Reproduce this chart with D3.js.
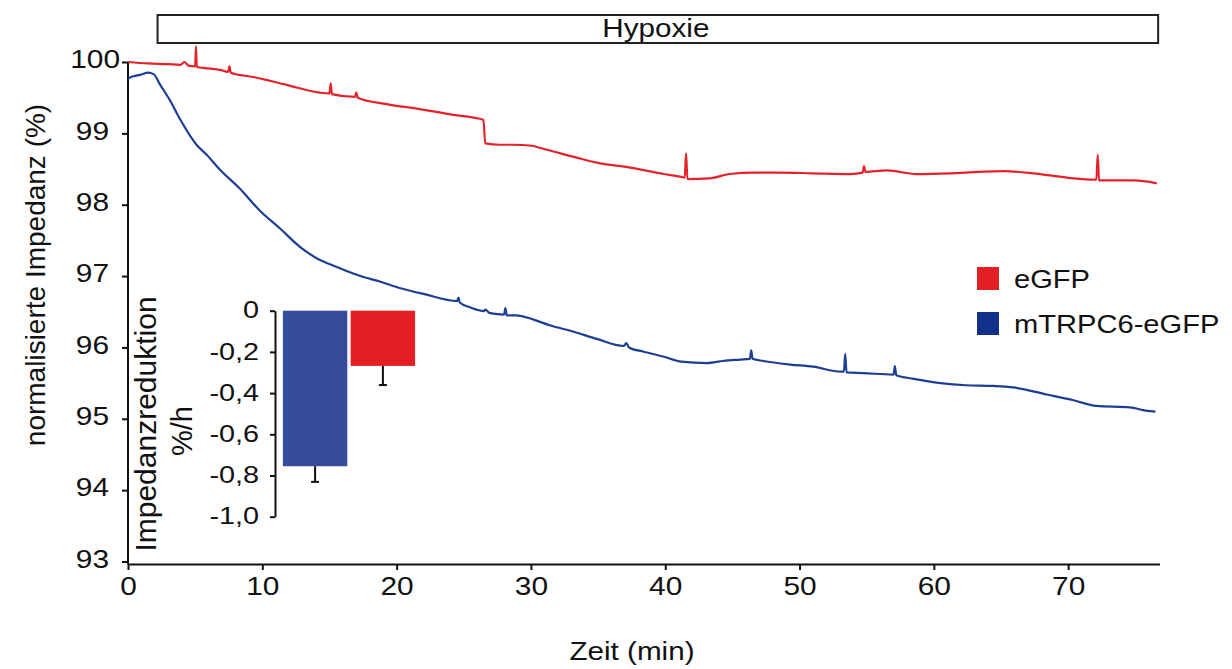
<!DOCTYPE html>
<html lang="de">
<head>
<meta charset="UTF-8">
<title>Impedanz unter Hypoxie</title>
<script src="https://cdn.jsdelivr.net/npm/d3@7"></script>
<style>
  body { margin: 0; background: #fff; }
  svg { display: block; font-family: "Liberation Sans", Arial, sans-serif; }
</style>
</head>
<body>
<svg></svg>
<script>
// traces: [Zeit (min), normalisierte Impedanz (%)]
var eGFP = [
  [0, 100.00], [1.5, 99.98], [3.0, 99.97], [3.9, 99.96], [4.2, 100.00], [4.5, 99.95],
  [5.0, 99.94], [5.06, 100.22], [5.12, 99.93], [6.0, 99.91], [6.85, 99.89],
  [7.45, 99.86], [7.55, 99.94], [7.65, 99.85], [9.33, 99.79], [11.8, 99.68],
  [14.3, 99.57], [15.0, 99.56], [15.09, 99.70], [15.18, 99.55], [16.9, 99.51],
  [17.0, 99.57], [17.1, 99.50], [19.26, 99.41], [21.7, 99.34], [24.2, 99.26],
  [26.46, 99.19], [26.6, 98.86], [27.7, 98.84], [28.7, 98.84], [29.9, 98.83],
  [31.2, 98.77], [33.4, 98.66], [34.9, 98.59], [37.4, 98.52], [39.9, 98.43],
  [41.2, 98.39], [41.45, 98.38], [41.55, 98.72], [41.65, 98.36], [43.3, 98.37],
  [44.8, 98.43], [46.6, 98.45], [48.5, 98.45], [51.0, 98.44], [53.8, 98.43],
  [54.7, 98.45], [54.8, 98.54], [54.9, 98.46], [56.5, 98.48], [58.7, 98.43],
  [61.2, 98.44], [63.4, 98.46], [65.2, 98.47], [67.4, 98.44], [69.9, 98.38],
  [72.1, 98.35], [72.2, 98.70], [72.3, 98.34], [74.9, 98.34], [76.6, 98.30]
];
var mTRPC6 = [
  [0, 99.77], [0.4, 99.80], [0.9, 99.82], [1.5, 99.85], [1.9, 99.83], [2.4, 99.68],
  [3.1, 99.47], [3.9, 99.19], [5.1, 98.84], [5.86, 98.70], [6.85, 98.49],
  [8.3, 98.23], [9.8, 97.92], [11.3, 97.67], [12.8, 97.41], [14.05, 97.25],
  [15.5, 97.13], [17.3, 97.00], [18.8, 96.92], [20.3, 96.83], [22.0, 96.75],
  [24.5, 96.65], [24.6, 96.70], [24.7, 96.63], [25.5, 96.56], [26.5, 96.51],
  [26.6, 96.53], [26.95, 96.48], [28.0, 96.46], [28.1, 96.55], [28.2, 96.45],
  [28.9, 96.45], [30.2, 96.39], [31.4, 96.31], [33.2, 96.22], [34.9, 96.12],
  [36.9, 96.02], [37.1, 96.06], [37.3, 96.00], [38.4, 95.94], [39.9, 95.87],
  [41.2, 95.80], [43.1, 95.78], [44.3, 95.81], [45.6, 95.83], [46.3, 95.84],
  [46.4, 95.96], [46.5, 95.84], [47.3, 95.81], [49.3, 95.76], [51.0, 95.73],
  [53.1, 95.66], [53.3, 95.66], [53.4, 95.91], [53.5, 95.65], [54.75, 95.64],
  [57.0, 95.62], [57.1, 95.74], [57.2, 95.61], [58.5, 95.56], [60.5, 95.50],
  [62.4, 95.47], [64.4, 95.46], [65.9, 95.44], [68.4, 95.34], [70.4, 95.26],
  [72.1, 95.18], [74.6, 95.16], [75.9, 95.11], [76.5, 95.10]
];
var xTicks = [0, 10, 20, 30, 40, 50, 60, 70];
var yTicks = [93, 94, 95, 96, 97, 98, 99, 100];
var hypoxia = [2.2, 76.7];   // minutes covered by the Hypoxie bar

// inset: Impedanzreduktion %/h
var barGroups = ['mTRPC6-eGFP', 'eGFP'];
var barMeans = [-0.755, -0.268];
var barErrors = [0.076, 0.093];
var barTicks = [0, -0.2, -0.4, -0.6, -0.8, -1.0];

var legendLabels = ['eGFP', 'mTRPC6-eGFP'];

var width = 1232, height = 669;
var red = '#e5222a', blue = '#1e3e93';
var barColor = {'mTRPC6-eGFP': '#354c9b', 'eGFP': '#e31e24'};
var keyColor = {'eGFP': '#e31e24', 'mTRPC6-eGFP': '#10308a'};
var ink = '#111';

var svg = d3.select('svg').attr('width', width).attr('height', height);

var x = d3.scaleLinear().domain([0, 76.8]).range([128, 1159.5]);
var y = d3.scaleLinear().domain([93, 100]).range([561.5, 62]);
var baseY = 564;

// text squeezed/stretched sideways like the original lettering
function label(txt, x0, y0, size, sx, anchor) {
  return svg.append('text')
    .attr('transform', 'translate(' + x0 + ',' + y0 + ') scale(' + sx + ',1)')
    .attr('text-anchor', anchor)
    .attr('font-size', size)
    .attr('fill', ink)
    .text(txt);
}

// Hypoxie bar
svg.append('rect')
  .attr('x', x(hypoxia[0])).attr('y', 15)
  .attr('width', x(hypoxia[1]) - x(hypoxia[0])).attr('height', 28)
  .attr('fill', '#fff').attr('stroke', '#222').attr('stroke-width', 2);
label('Hypoxie', (x(hypoxia[0]) + x(hypoxia[1])) / 2 - 2, 37, 26, 1.14, 'middle');

// axes
var yAxis = svg.append('g')
  .attr('transform', 'translate(128,0)')
  .call(d3.axisLeft(y).tickValues(yTicks).tickSize(6).tickPadding(14).tickSizeOuter(0)
    .tickFormat(d3.format('d')));
yAxis.select('.domain').remove();
yAxis.selectAll('.tick line').attr('stroke', ink).attr('stroke-width', 2);
yAxis.selectAll('.tick text')
  .attr('font-size', 26).attr('fill', ink).attr('font-family', null)
  .attr('dy', '0.22em')
  .attr('transform', 'scale(1.15,1)')
  .attr('x', function(d) { return d === 100 ? -8 / 1.15 : -19 / 1.15; });

svg.append('line')
  .attr('x1', 128).attr('x2', 128).attr('y1', y(100)).attr('y2', baseY)
  .attr('stroke', ink).attr('stroke-width', 2);

var xAxis = svg.append('g')
  .attr('transform', 'translate(0,' + baseY + ')')
  .call(d3.axisBottom(x).tickValues(xTicks).tickSize(6).tickPadding(7).tickSizeOuter(0)
    .tickFormat(d3.format('d')));
xAxis.select('.domain').attr('stroke', ink).attr('stroke-width', 2);
xAxis.selectAll('.tick line').attr('stroke', ink).attr('stroke-width', 2);
xAxis.selectAll('.tick text')
  .attr('font-size', 26).attr('fill', ink).attr('font-family', null)
  .attr('transform', 'scale(1.15,1)')
  .attr('x', 0);

// axis titles
svg.append('text')
  .attr('transform', 'translate(45,275) rotate(-90)')
  .attr('text-anchor', 'middle').attr('font-size', 28).attr('fill', ink)
  .text('normalisierte Impedanz (%)');
label('Zeit (min)', 632, 660, 26, 1.14, 'middle');

// traces
var line = d3.line()
  .curve(d3.curveMonotoneX)
  .x(function(d) { return x(d[0]); })
  .y(function(d) { return y(d[1]); });

svg.append('path').datum(eGFP)
  .attr('fill', 'none').attr('stroke', red).attr('stroke-width', 2.2)
  .attr('stroke-linejoin', 'round').attr('d', line);
svg.append('path').datum(mTRPC6)
  .attr('fill', 'none').attr('stroke', blue).attr('stroke-width', 2.2)
  .attr('stroke-linejoin', 'round').attr('d', line);

// inset bar chart
var bx = d3.scaleBand().domain(barGroups).range([279.5, 418.5])
  .paddingInner(0.05).paddingOuter(0.05);
var by = d3.scaleLinear().domain([-1, 0]).range([516.7, 310.7]);

var inset = svg.append('g');
inset.selectAll('rect.bar').data(barGroups).enter().append('rect')
  .attr('class', 'bar')
  .attr('x', function(d) { return bx(d); })
  .attr('y', by(0))
  .attr('width', bx.bandwidth())
  .attr('height', function(d, i) { return by(barMeans[i]) - by(0); })
  .attr('fill', function(d) { return barColor[d]; });

inset.selectAll('line.err').data(barGroups).enter().append('line')
  .attr('class', 'err')
  .attr('x1', function(d) { return bx(d) + bx.bandwidth() / 2; })
  .attr('x2', function(d) { return bx(d) + bx.bandwidth() / 2; })
  .attr('y1', function(d, i) { return by(barMeans[i]); })
  .attr('y2', function(d, i) { return by(barMeans[i] - barErrors[i]); })
  .attr('stroke', ink).attr('stroke-width', 2);
inset.selectAll('line.cap').data(barGroups).enter().append('line')
  .attr('class', 'cap')
  .attr('x1', function(d) { return bx(d) + bx.bandwidth() / 2 - 4; })
  .attr('x2', function(d) { return bx(d) + bx.bandwidth() / 2 + 4; })
  .attr('y1', function(d, i) { return by(barMeans[i] - barErrors[i]); })
  .attr('y2', function(d, i) { return by(barMeans[i] - barErrors[i]); })
  .attr('stroke', ink).attr('stroke-width', 2);

var insetAxis = inset.append('g')
  .attr('transform', 'translate(275,0)')
  .call(d3.axisLeft(by).tickValues(barTicks).tickSize(5).tickPadding(13).tickSizeOuter(0)
    .tickFormat(function(d) { return d === 0 ? '0' : d.toFixed(1).replace('.', ','); }));
insetAxis.select('.domain').attr('stroke', ink).attr('stroke-width', 2);
insetAxis.selectAll('.tick line').attr('stroke', ink).attr('stroke-width', 2);
insetAxis.selectAll('.tick text')
  .attr('font-size', 24).attr('fill', ink).attr('font-family', null)
  .attr('dy', '0.3em')
  .attr('transform', 'scale(1.2,1)')
  .attr('x', -16 / 1.2);

inset.append('text')
  .attr('transform', 'translate(156,424) rotate(-90)')
  .attr('text-anchor', 'middle').attr('font-size', 30).attr('fill', ink)
  .text('Impedanzreduktion');
inset.append('text')
  .attr('transform', 'translate(192,431) rotate(-90)')
  .attr('text-anchor', 'middle').attr('font-size', 29).attr('fill', ink)
  .text('%/h');

// legend
var legend = svg.append('g');
legendLabels.forEach(function(name, i) {
  legend.append('rect')
    .attr('x', 977).attr('y', 267 + i * 45)
    .attr('width', 22).attr('height', 23)
    .attr('fill', keyColor[name]);
  label(name, 1014, 288 + i * 45, 26, 1.12, 'start');
});
</script>
</body>
</html>
